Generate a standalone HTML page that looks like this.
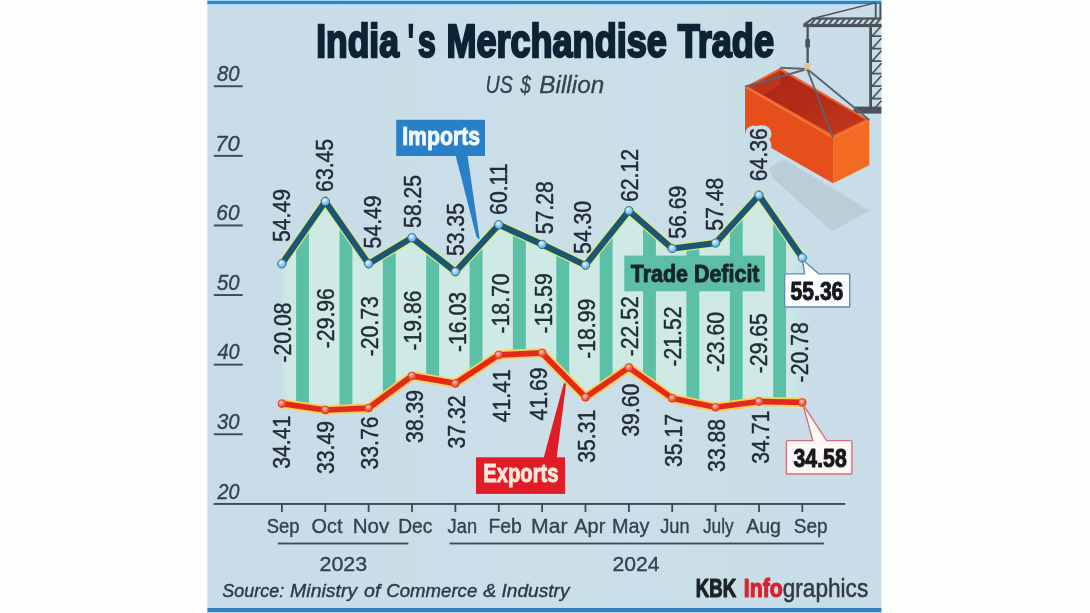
<!DOCTYPE html>
<html><head><meta charset="utf-8"><title>India's Merchandise Trade</title>
<style>html,body{margin:0;padding:0;background:#fdfefe;}body{width:1090px;height:613px;overflow:hidden;font-family:"Liberation Sans",sans-serif;}svg{display:block;}</style>
</head><body>
<svg width="1090" height="613" viewBox="0 0 1090 613">
<defs>
<linearGradient id="bg" x1="0" y1="0" x2="1" y2="0">
<stop offset="0" stop-color="#c8dce8"/><stop offset="0.5" stop-color="#cbdfe9"/><stop offset="1" stop-color="#c9dde8"/>
</linearGradient>
<radialGradient id="mi" cx="0.4" cy="0.35" r="0.7"><stop offset="0" stop-color="#e8f6ff"/><stop offset="0.5" stop-color="#8ccaf2"/><stop offset="1" stop-color="#5aa6dc"/></radialGradient>
<radialGradient id="me" cx="0.4" cy="0.35" r="0.7"><stop offset="0" stop-color="#ffd0c0"/><stop offset="0.55" stop-color="#ee6a58"/><stop offset="1" stop-color="#d83a2a"/></radialGradient>
</defs>
<filter id="soft" x="0" y="0" width="100%" height="100%" filterUnits="userSpaceOnUse"><feGaussianBlur stdDeviation="0.55" edgeMode="duplicate"/></filter>
<g filter="url(#soft)">
<rect width="1090" height="613" fill="#fdfefe"/>
<rect x="207.4" y="0" width="674.0" height="613" fill="url(#bg)"/>
<rect x="207.4" y="0" width="674.0" height="1.1" fill="#9cd6fb"/>
<rect x="207.4" y="1.0" width="674.0" height="3.2" fill="#3283c2"/>
<rect x="207.4" y="4.2" width="674.0" height="1.2" fill="#bfe0f2" opacity="0.7"/>
<rect x="207.4" y="606.8" width="674.0" height="1.3" fill="#b4e0f8"/>
<rect x="207.4" y="608" width="674.0" height="4.2" fill="#3280bf"/>
<rect x="207.4" y="612.2" width="674.0" height="0.8" fill="#bfe0f5"/>
<g fill="#4b5359" stroke="none">
<rect x="812.5" y="17.4" width="69" height="2.3"/>
<rect x="803.3" y="23.8" width="78.2" height="3.3"/>
<polygon points="803.3,23.8 812.5,17.4 815.5,17.4 806.5,24.5"/>
<rect x="874.8" y="3.5" width="1.8" height="14.5"/>
<rect x="879.4" y="3.5" width="2.0" height="14.5"/>
<rect x="869.2" y="27" width="2.8" height="80"/>
<rect x="853.6" y="106.6" width="27.8" height="7"/>
<rect x="806.5" y="27" width="2.3" height="36"/>
<rect x="805.3" y="39" width="4.7" height="8.5" rx="1"/>
</g>
<path d="M811.0,24.2 L815.2,19.2 M816.9,24.2 L821.1,19.2 M822.8,24.2 L827.0,19.2 M828.7,24.2 L832.9,19.2 M834.6,24.2 L838.8,19.2 M840.5,24.2 L844.7,19.2 M846.4,24.2 L850.6,19.2 M852.3,24.2 L856.5,19.2 M858.2,24.2 L862.4,19.2 M864.1,24.2 L868.3,19.2 M870.0,24.2 L874.2,19.2 M875.9,24.2 L880.1,19.2 " fill="none" stroke="#4b5359" stroke-width="2.0"/>
<line x1="816" y1="17.8" x2="876" y2="2.6" stroke="#4b5359" stroke-width="1.4"/>
<path d="M872,36.2 L881.4,36.2 M872,36.2 L881.4,25.7 M872,48.7 L881.4,48.7 M872,48.7 L881.4,38.2 M872,61.2 L881.4,61.2 M872,61.2 L881.4,50.7 M872,73.7 L881.4,73.7 M872,73.7 L881.4,63.2 M872,86.2 L881.4,86.2 M872,86.2 L881.4,75.7 M872,98.7 L881.4,98.7 M872,98.7 L881.4,88.2 M872,111.2 L881.4,100.7" fill="none" stroke="#4b5359" stroke-width="1.7"/>
<polygon points="765,171 783.5,159 869.5,210.5 832,231.6" fill="#b5c6cf" opacity="0.72"/>
<polygon points="745.0,86.7 780.3,67.7 869.3,119.9 833.1,138.0" fill="#f0602a"/>
<linearGradient id="ci" x1="0" y1="0" x2="1" y2="1"><stop offset="0" stop-color="#a92616"/><stop offset="0.6" stop-color="#b62d19"/><stop offset="1" stop-color="#c63a1d"/></linearGradient>
<polygon points="749.0,87.0 780.3,70.4 865.4,119.7 833.2,135.0" fill="url(#ci)"/>
<polygon points="749.0,87.0 780.3,70.4 780.3,84.5 763.5,95.2" fill="#c23a20" opacity="0.75"/>
<polygon points="745.0,86.7 833.1,138.0 833.1,183.3 745.0,132.9" fill="#e6501e"/>
<polygon points="833.1,138.0 869.3,119.9 869.3,165.2 833.1,183.3" fill="#f36b22"/>
<polyline points="745.0,86.7 833.1,138.0 869.3,119.9" fill="none" stroke="#f47a3c" stroke-width="1.4"/>
<line x1="807.2" y1="69.0" x2="745" y2="86.7" stroke="#5b656d" stroke-width="1.9"/>
<line x1="807.2" y1="69.0" x2="780.3" y2="67.7" stroke="#5b656d" stroke-width="1.9"/>
<line x1="807.2" y1="69.0" x2="869.3" y2="119.9" stroke="#5b656d" stroke-width="1.9"/>
<line x1="807.2" y1="69.0" x2="833.1" y2="138.0" stroke="#5b656d" stroke-width="1.9"/>
<path d="M804.0,62.3 L807.6,64 L811.2,62.3 L810,67 L811,70.8 L807.6,69.2 L804.2,70.8 L805.2,67 Z" fill="#e3c586"/>
<text transform="translate(316.14,56.85) scale(0.7779,1)" font-family="Liberation Sans, sans-serif" font-weight="bold" font-size="45.6" fill="#0e2433" stroke="#0e2433" stroke-width="2.1" stroke-linejoin="miter" vector-effect="non-scaling-stroke">India</text>
<text transform="translate(407.94,56.85) scale(0.5229,1)" font-family="Liberation Sans, sans-serif" font-weight="bold" font-size="45.6" fill="#0e2433" stroke="#0e2433" stroke-width="2.1" stroke-linejoin="miter" vector-effect="non-scaling-stroke">'</text>
<text transform="translate(417.93,56.85) scale(0.6990,1)" font-family="Liberation Sans, sans-serif" font-weight="bold" font-size="45.6" fill="#0e2433" stroke="#0e2433" stroke-width="2.1" stroke-linejoin="miter" vector-effect="non-scaling-stroke">s</text>
<text transform="translate(446.41,56.85) scale(0.7907,1)" font-family="Liberation Sans, sans-serif" font-weight="bold" font-size="45.6" fill="#0e2433" stroke="#0e2433" stroke-width="2.1" stroke-linejoin="miter" vector-effect="non-scaling-stroke">Merchandise</text>
<text transform="translate(677.69,56.85) scale(0.7918,1)" font-family="Liberation Sans, sans-serif" font-weight="bold" font-size="45.6" fill="#0e2433" stroke="#0e2433" stroke-width="2.1" stroke-linejoin="miter" vector-effect="non-scaling-stroke">Trade</text>
<text transform="translate(485.47,93.35) scale(0.8357,1)" font-family="Liberation Sans, sans-serif" font-style="italic" font-size="23.565217391304348" fill="#33434f" stroke="#33434f" stroke-width="0.3" stroke-linejoin="round" vector-effect="non-scaling-stroke">US</text>
<text transform="translate(520.44,93.35) scale(0.7897,1)" font-family="Liberation Sans, sans-serif" font-style="italic" font-size="23.565217391304348" fill="#33434f" stroke="#33434f" stroke-width="0.3" stroke-linejoin="round" vector-effect="non-scaling-stroke">$</text>
<text transform="translate(539.32,93.35) scale(1.0322,1)" font-family="Liberation Sans, sans-serif" font-style="italic" font-size="23.565217391304348" fill="#33434f" stroke="#33434f" stroke-width="0.3" stroke-linejoin="round" vector-effect="non-scaling-stroke">Billion</text>
<text transform="translate(216.97,81.02) scale(0.9241,1)" font-family="Liberation Sans, sans-serif" font-style="italic" font-size="21.992753623188406" fill="#34424f" stroke="#34424f" stroke-width="0.35" stroke-linejoin="round" vector-effect="non-scaling-stroke">80</text>
<rect x="213.7" y="85.3" width="29" height="1.9" fill="#3c4a57"/>
<text transform="translate(215.17,150.62) scale(0.9981,1)" font-family="Liberation Sans, sans-serif" font-style="italic" font-size="21.992753623188406" fill="#34424f" stroke="#34424f" stroke-width="0.35" stroke-linejoin="round" vector-effect="non-scaling-stroke">70</text>
<rect x="213.7" y="154.9" width="29" height="1.9" fill="#3c4a57"/>
<text transform="translate(216.33,220.22) scale(0.9505,1)" font-family="Liberation Sans, sans-serif" font-style="italic" font-size="21.992753623188406" fill="#34424f" stroke="#34424f" stroke-width="0.35" stroke-linejoin="round" vector-effect="non-scaling-stroke">60</text>
<rect x="213.7" y="224.5" width="29" height="1.9" fill="#3c4a57"/>
<text transform="translate(216.97,289.82) scale(0.9241,1)" font-family="Liberation Sans, sans-serif" font-style="italic" font-size="21.992753623188406" fill="#34424f" stroke="#34424f" stroke-width="0.35" stroke-linejoin="round" vector-effect="non-scaling-stroke">50</text>
<rect x="213.7" y="294.1" width="29" height="1.9" fill="#3c4a57"/>
<text transform="translate(217.38,359.42) scale(0.9073,1)" font-family="Liberation Sans, sans-serif" font-style="italic" font-size="21.992753623188406" fill="#34424f" stroke="#34424f" stroke-width="0.35" stroke-linejoin="round" vector-effect="non-scaling-stroke">40</text>
<rect x="213.7" y="363.7" width="29" height="1.9" fill="#3c4a57"/>
<text transform="translate(216.97,429.02) scale(0.9241,1)" font-family="Liberation Sans, sans-serif" font-style="italic" font-size="21.992753623188406" fill="#34424f" stroke="#34424f" stroke-width="0.35" stroke-linejoin="round" vector-effect="non-scaling-stroke">30</text>
<rect x="213.7" y="433.3" width="29" height="1.9" fill="#3c4a57"/>
<text transform="translate(217.57,498.62) scale(0.8991,1)" font-family="Liberation Sans, sans-serif" font-style="italic" font-size="21.992753623188406" fill="#34424f" stroke="#34424f" stroke-width="0.35" stroke-linejoin="round" vector-effect="non-scaling-stroke">20</text>
<clipPath id="cp"><polygon points="281.9,263.8 325.3,201.5 368.6,263.8 412.0,237.7 455.4,271.8 498.8,224.7 542.1,244.4 585.5,265.2 628.9,210.7 672.2,248.5 715.6,243.0 759.0,195.2 802.3,257.8 802.3,402.4 759.0,401.5 715.6,407.3 672.2,398.3 628.9,367.5 585.5,397.3 542.1,352.9 498.8,354.9 455.4,383.4 412.0,375.9 368.6,408.1 325.3,410.0 281.9,403.6"/></clipPath>
<linearGradient id="lt" x1="0" y1="0" x2="0" y2="1"><stop offset="0" stop-color="#cdeee2"/><stop offset="1" stop-color="#d3ebe8"/></linearGradient>
<g clip-path="url(#cp)">
<rect x="270" y="150" width="560" height="300" fill="#cfeae5"/>
<rect x="296.1" y="150" width="12.9" height="300" fill="#5cc0a6"/>
<rect x="339.5" y="150" width="12.9" height="300" fill="#5cc0a6"/>
<rect x="382.8" y="150" width="12.9" height="300" fill="#5cc0a6"/>
<rect x="426.2" y="150" width="12.9" height="300" fill="#5cc0a6"/>
<rect x="469.6" y="150" width="12.9" height="300" fill="#5cc0a6"/>
<rect x="512.9" y="150" width="12.9" height="300" fill="#5cc0a6"/>
<rect x="556.3" y="150" width="12.9" height="300" fill="#5cc0a6"/>
<rect x="599.7" y="150" width="12.9" height="300" fill="#5cc0a6"/>
<rect x="643.0" y="150" width="12.9" height="300" fill="#5cc0a6"/>
<rect x="686.4" y="150" width="12.9" height="300" fill="#5cc0a6"/>
<rect x="729.8" y="150" width="12.9" height="300" fill="#5cc0a6"/>
<rect x="773.2" y="150" width="12.9" height="300" fill="#5cc0a6"/>
<linearGradient id="fr" x1="0" y1="0" x2="1" y2="0"><stop offset="0" stop-color="#c9dde9" stop-opacity="0.15"/><stop offset="1" stop-color="#c9dde9" stop-opacity="0.9"/></linearGradient>
<linearGradient id="fl" x1="0" y1="0" x2="1" y2="0"><stop offset="0" stop-color="#c9dde9" stop-opacity="0.8"/><stop offset="1" stop-color="#c9dde9" stop-opacity="0"/></linearGradient>
<rect x="786.6" y="150" width="16" height="300" fill="url(#fr)"/>
<rect x="281" y="150" width="9" height="300" fill="url(#fl)"/>
</g>
<rect x="624.3" y="255.6" width="140.6" height="35.7" fill="#5bbfa5"/>
<text transform="translate(630.74,281.75) scale(0.8795,1)" font-family="Liberation Sans, sans-serif" font-weight="bold" font-size="24.395652173913042" fill="#17262a" stroke="#17262a" stroke-width="0.9" stroke-linejoin="round" vector-effect="non-scaling-stroke">Trade Deficit</text>
<text transform="translate(290.6,362.6) rotate(-90) scale(0.862,1)" font-family="Liberation Sans, sans-serif" font-size="24.6" fill="#222c35" stroke="#222c35" stroke-width="0.45">-20.08</text>
<text transform="translate(333.6,348.2) rotate(-90) scale(0.862,1)" font-family="Liberation Sans, sans-serif" font-size="24.6" fill="#222c35" stroke="#222c35" stroke-width="0.45">-29.96</text>
<text transform="translate(378.0,356.3) rotate(-90) scale(0.862,1)" font-family="Liberation Sans, sans-serif" font-size="24.6" fill="#222c35" stroke="#222c35" stroke-width="0.45">-20.73</text>
<text transform="translate(420.9,350.6) rotate(-90) scale(0.862,1)" font-family="Liberation Sans, sans-serif" font-size="24.6" fill="#222c35" stroke="#222c35" stroke-width="0.45">-19.86</text>
<text transform="translate(465.6,352.1) rotate(-90) scale(0.862,1)" font-family="Liberation Sans, sans-serif" font-size="24.6" fill="#222c35" stroke="#222c35" stroke-width="0.45">-16.03</text>
<text transform="translate(508.9,333.5) rotate(-90) scale(0.862,1)" font-family="Liberation Sans, sans-serif" font-size="24.6" fill="#222c35" stroke="#222c35" stroke-width="0.45">-18.70</text>
<text transform="translate(551.7,333.4) rotate(-90) scale(0.862,1)" font-family="Liberation Sans, sans-serif" font-size="24.6" fill="#222c35" stroke="#222c35" stroke-width="0.45">-15.59</text>
<text transform="translate(594.8,358.8) rotate(-90) scale(0.862,1)" font-family="Liberation Sans, sans-serif" font-size="24.6" fill="#222c35" stroke="#222c35" stroke-width="0.45">-18.99</text>
<text transform="translate(638.2,356.3) rotate(-90) scale(0.862,1)" font-family="Liberation Sans, sans-serif" font-size="24.6" fill="#222c35" stroke="#222c35" stroke-width="0.45">-22.52</text>
<text transform="translate(680.6,366.6) rotate(-90) scale(0.862,1)" font-family="Liberation Sans, sans-serif" font-size="24.6" fill="#222c35" stroke="#222c35" stroke-width="0.45">-21.52</text>
<text transform="translate(724.0,372.1) rotate(-90) scale(0.862,1)" font-family="Liberation Sans, sans-serif" font-size="24.6" fill="#222c35" stroke="#222c35" stroke-width="0.45">-23.60</text>
<text transform="translate(766.9,373.2) rotate(-90) scale(0.862,1)" font-family="Liberation Sans, sans-serif" font-size="24.6" fill="#222c35" stroke="#222c35" stroke-width="0.45">-29.65</text>
<text transform="translate(807.8,382.4) rotate(-90) scale(0.862,1)" font-family="Liberation Sans, sans-serif" font-size="24.6" fill="#222c35" stroke="#222c35" stroke-width="0.45">-20.78</text>
<text transform="translate(290.0,242.0) rotate(-90) scale(0.862,1)" font-family="Liberation Sans, sans-serif" font-size="24.6" fill="#222c35" stroke="#222c35" stroke-width="0.45">54.49</text>
<text transform="translate(332.8,191.9) rotate(-90) scale(0.862,1)" font-family="Liberation Sans, sans-serif" font-size="24.6" fill="#222c35" stroke="#222c35" stroke-width="0.45">63.45</text>
<text transform="translate(381.3,248.4) rotate(-90) scale(0.862,1)" font-family="Liberation Sans, sans-serif" font-size="24.6" fill="#222c35" stroke="#222c35" stroke-width="0.45">54.49</text>
<text transform="translate(420.6,227.9) rotate(-90) scale(0.862,1)" font-family="Liberation Sans, sans-serif" font-size="24.6" fill="#222c35" stroke="#222c35" stroke-width="0.45">58.25</text>
<text transform="translate(464.0,256.1) rotate(-90) scale(0.862,1)" font-family="Liberation Sans, sans-serif" font-size="24.6" fill="#222c35" stroke="#222c35" stroke-width="0.45">53.35</text>
<text transform="translate(507.3,214.9) rotate(-90) scale(0.862,1)" font-family="Liberation Sans, sans-serif" font-size="24.6" fill="#222c35" stroke="#222c35" stroke-width="0.45">60.11</text>
<text transform="translate(553.0,234.3) rotate(-90) scale(0.862,1)" font-family="Liberation Sans, sans-serif" font-size="24.6" fill="#222c35" stroke="#222c35" stroke-width="0.45">57.28</text>
<text transform="translate(591.4,253.9) rotate(-90) scale(0.862,1)" font-family="Liberation Sans, sans-serif" font-size="24.6" fill="#222c35" stroke="#222c35" stroke-width="0.45">54.30</text>
<text transform="translate(638.4,202.0) rotate(-90) scale(0.862,1)" font-family="Liberation Sans, sans-serif" font-size="24.6" fill="#222c35" stroke="#222c35" stroke-width="0.45">62.12</text>
<text transform="translate(685.5,238.7) rotate(-90) scale(0.862,1)" font-family="Liberation Sans, sans-serif" font-size="24.6" fill="#222c35" stroke="#222c35" stroke-width="0.45">56.69</text>
<text transform="translate(723.0,230.8) rotate(-90) scale(0.862,1)" font-family="Liberation Sans, sans-serif" font-size="24.6" fill="#222c35" stroke="#222c35" stroke-width="0.45">57.48</text>
<text transform="translate(766.8,181.2) rotate(-90) scale(0.862,1)" font-family="Liberation Sans, sans-serif" font-size="24.6" fill="#c9dde9" stroke="#c9dde9" stroke-width="9" stroke-linejoin="round">64.36</text>
<text transform="translate(766.8,181.2) rotate(-90) scale(0.862,1)" font-family="Liberation Sans, sans-serif" font-size="24.6" fill="#222c35" stroke="#222c35" stroke-width="0.45">64.36</text>
<text transform="translate(289.5,468.8) rotate(-90) scale(0.862,1)" font-family="Liberation Sans, sans-serif" font-size="24.6" fill="#222c35" stroke="#222c35" stroke-width="0.45">34.41</text>
<text transform="translate(333.9,474.0) rotate(-90) scale(0.862,1)" font-family="Liberation Sans, sans-serif" font-size="24.6" fill="#222c35" stroke="#222c35" stroke-width="0.45">33.49</text>
<text transform="translate(378.0,469.5) rotate(-90) scale(0.862,1)" font-family="Liberation Sans, sans-serif" font-size="24.6" fill="#222c35" stroke="#222c35" stroke-width="0.45">33.76</text>
<text transform="translate(422.5,442.9) rotate(-90) scale(0.862,1)" font-family="Liberation Sans, sans-serif" font-size="24.6" fill="#222c35" stroke="#222c35" stroke-width="0.45">38.39</text>
<text transform="translate(464.6,448.5) rotate(-90) scale(0.862,1)" font-family="Liberation Sans, sans-serif" font-size="24.6" fill="#222c35" stroke="#222c35" stroke-width="0.45">37.32</text>
<text transform="translate(509.6,422.2) rotate(-90) scale(0.862,1)" font-family="Liberation Sans, sans-serif" font-size="24.6" fill="#222c35" stroke="#222c35" stroke-width="0.45">41.41</text>
<text transform="translate(546.6,420.5) rotate(-90) scale(0.862,1)" font-family="Liberation Sans, sans-serif" font-size="24.6" fill="#222c35" stroke="#222c35" stroke-width="0.45">41.69</text>
<text transform="translate(595.3,462.8) rotate(-90) scale(0.862,1)" font-family="Liberation Sans, sans-serif" font-size="24.6" fill="#222c35" stroke="#222c35" stroke-width="0.45">35.31</text>
<text transform="translate(639.3,436.8) rotate(-90) scale(0.862,1)" font-family="Liberation Sans, sans-serif" font-size="24.6" fill="#222c35" stroke="#222c35" stroke-width="0.45">39.60</text>
<text transform="translate(682.4,467.0) rotate(-90) scale(0.862,1)" font-family="Liberation Sans, sans-serif" font-size="24.6" fill="#222c35" stroke="#222c35" stroke-width="0.45">35.17</text>
<text transform="translate(725.1,471.9) rotate(-90) scale(0.862,1)" font-family="Liberation Sans, sans-serif" font-size="24.6" fill="#222c35" stroke="#222c35" stroke-width="0.45">33.88</text>
<text transform="translate(768.7,463.7) rotate(-90) scale(0.862,1)" font-family="Liberation Sans, sans-serif" font-size="24.6" fill="#222c35" stroke="#222c35" stroke-width="0.45">34.71</text>
<polygon points="455.6,155.5 467.5,155.5 479.8,240 476.5,237" fill="#2a80c6"/>
<rect x="396.2" y="119.8" width="88.8" height="36.2" fill="#2a80c6"/>
<text transform="translate(402.17,145.45) scale(0.8025,1)" font-family="Liberation Sans, sans-serif" font-weight="bold" font-size="26.495652173913044" fill="#f0f8ff" stroke="#f0f8ff" stroke-width="0.9" stroke-linejoin="round" vector-effect="non-scaling-stroke">Imports</text>
<polygon points="543.6,458 556.6,458 566.4,381.5 563.6,384" fill="#e21f26"/>
<rect x="476" y="457.3" width="89" height="36.6" fill="#e21f26"/>
<text transform="translate(483.34,482.35) scale(0.7859,1)" font-family="Liberation Sans, sans-serif" font-weight="bold" font-size="25.695652173913043" fill="#fde8de" stroke="#fde8de" stroke-width="0.9" stroke-linejoin="round" vector-effect="non-scaling-stroke">Exports</text>
<path d="M785.3,273.9 H804.6 L802.4,259.5 L818.8,273.9 H848.9 Q849.7,273.9 849.7,274.7 V306.2 Q849.7,307 848.9,307 H785.4 Q784.6,307 784.6,306.2 V274.7 Q784.6,273.9 785.3,273.9 Z" fill="#fbfdfe" stroke="#5a8db4" stroke-width="1.4" stroke-linejoin="miter"/>
<text transform="translate(790.62,300.15) scale(0.8395,1)" font-family="Liberation Sans, sans-serif" font-weight="bold" font-size="25.09565217391304" fill="#15191d" stroke="#15191d" stroke-width="0.9" stroke-linejoin="round" vector-effect="non-scaling-stroke">55.36</text>
<path d="M787.2,440.6 H812.8 L803.0,404.5 L826.6,440.6 H851.1 Q851.9,440.6 851.9,441.4 V473.2 Q851.9,474 851.1,474 H787.2 Q786.4,474 786.4,473.2 V441.4 Q786.4,440.6 787.2,440.6 Z" fill="#fdf8f6" stroke="#d0737a" stroke-width="1.4" stroke-linejoin="miter"/>
<text transform="translate(793.52,466.95) scale(0.8475,1)" font-family="Liberation Sans, sans-serif" font-weight="bold" font-size="25.09565217391304" fill="#15191d" stroke="#15191d" stroke-width="0.9" stroke-linejoin="round" vector-effect="non-scaling-stroke">34.58</text>
<polyline points="281.9,263.8 325.3,201.5 368.6,263.8 412.0,237.7 455.4,271.8 498.8,224.7 542.1,244.4 585.5,265.2 628.9,210.7 672.2,248.5 715.6,243.0 759.0,195.2 802.3,257.8" fill="none" stroke="#dcec78" stroke-width="8.6" stroke-linejoin="miter" stroke-linecap="round"/>
<polyline points="281.9,263.8 325.3,201.5 368.6,263.8 412.0,237.7 455.4,271.8 498.8,224.7 542.1,244.4 585.5,265.2 628.9,210.7 672.2,248.5 715.6,243.0 759.0,195.2 802.3,257.8" fill="none" stroke="#1b5574" stroke-width="6.2" stroke-linejoin="miter" stroke-linecap="round"/>
<polyline points="281.9,403.6 325.3,410.0 368.6,408.1 412.0,375.9 455.4,383.4 498.8,354.9 542.1,352.9 585.5,397.3 628.9,367.5 672.2,398.3 715.6,407.3 759.0,401.5 802.3,402.4" fill="none" stroke="#f9cf58" stroke-width="9.4" stroke-linejoin="round" stroke-linecap="round"/>
<polyline points="281.9,403.6 325.3,410.0 368.6,408.1 412.0,375.9 455.4,383.4 498.8,354.9 542.1,352.9 585.5,397.3 628.9,367.5 672.2,398.3 715.6,407.3 759.0,401.5 802.3,402.4" fill="none" stroke="#e22a1c" stroke-width="5.7" stroke-linejoin="round" stroke-linecap="round"/>
<circle cx="281.9" cy="263.8" r="4.2" fill="url(#mi)" stroke="#2d6c9c" stroke-width="1"/>
<circle cx="281.9" cy="403.6" r="3.9" fill="url(#me)" stroke="#d8382a" stroke-width="0.8"/>
<circle cx="325.3" cy="201.5" r="4.2" fill="url(#mi)" stroke="#2d6c9c" stroke-width="1"/>
<circle cx="325.3" cy="410.0" r="3.9" fill="url(#me)" stroke="#d8382a" stroke-width="0.8"/>
<circle cx="368.6" cy="263.8" r="4.2" fill="url(#mi)" stroke="#2d6c9c" stroke-width="1"/>
<circle cx="368.6" cy="408.1" r="3.9" fill="url(#me)" stroke="#d8382a" stroke-width="0.8"/>
<circle cx="412.0" cy="237.7" r="4.2" fill="url(#mi)" stroke="#2d6c9c" stroke-width="1"/>
<circle cx="412.0" cy="375.9" r="3.9" fill="url(#me)" stroke="#d8382a" stroke-width="0.8"/>
<circle cx="455.4" cy="271.8" r="4.2" fill="url(#mi)" stroke="#2d6c9c" stroke-width="1"/>
<circle cx="455.4" cy="383.4" r="3.9" fill="url(#me)" stroke="#d8382a" stroke-width="0.8"/>
<circle cx="498.8" cy="224.7" r="4.2" fill="url(#mi)" stroke="#2d6c9c" stroke-width="1"/>
<circle cx="498.8" cy="354.9" r="3.9" fill="url(#me)" stroke="#d8382a" stroke-width="0.8"/>
<circle cx="542.1" cy="244.4" r="4.2" fill="url(#mi)" stroke="#2d6c9c" stroke-width="1"/>
<circle cx="542.1" cy="352.9" r="3.9" fill="url(#me)" stroke="#d8382a" stroke-width="0.8"/>
<circle cx="585.5" cy="265.2" r="4.2" fill="url(#mi)" stroke="#2d6c9c" stroke-width="1"/>
<circle cx="585.5" cy="397.3" r="3.9" fill="url(#me)" stroke="#d8382a" stroke-width="0.8"/>
<circle cx="628.9" cy="210.7" r="4.2" fill="url(#mi)" stroke="#2d6c9c" stroke-width="1"/>
<circle cx="628.9" cy="367.5" r="3.9" fill="url(#me)" stroke="#d8382a" stroke-width="0.8"/>
<circle cx="672.2" cy="248.5" r="4.2" fill="url(#mi)" stroke="#2d6c9c" stroke-width="1"/>
<circle cx="672.2" cy="398.3" r="3.9" fill="url(#me)" stroke="#d8382a" stroke-width="0.8"/>
<circle cx="715.6" cy="243.0" r="4.2" fill="url(#mi)" stroke="#2d6c9c" stroke-width="1"/>
<circle cx="715.6" cy="407.3" r="3.9" fill="url(#me)" stroke="#d8382a" stroke-width="0.8"/>
<circle cx="759.0" cy="195.2" r="4.2" fill="url(#mi)" stroke="#2d6c9c" stroke-width="1"/>
<circle cx="759.0" cy="401.5" r="3.9" fill="url(#me)" stroke="#d8382a" stroke-width="0.8"/>
<circle cx="802.3" cy="257.8" r="4.2" fill="url(#mi)" stroke="#2d6c9c" stroke-width="1"/>
<circle cx="802.3" cy="402.4" r="3.9" fill="url(#me)" stroke="#d8382a" stroke-width="0.8"/>
<rect x="213.7" y="503.0" width="631.5" height="1.9" fill="#3c4a57"/>
<rect x="281.0" y="504" width="1.8" height="8" fill="#3c4a57"/>
<rect x="324.4" y="504" width="1.8" height="8" fill="#3c4a57"/>
<rect x="367.7" y="504" width="1.8" height="8" fill="#3c4a57"/>
<rect x="411.1" y="504" width="1.8" height="8" fill="#3c4a57"/>
<rect x="454.5" y="504" width="1.8" height="8" fill="#3c4a57"/>
<rect x="497.9" y="504" width="1.8" height="8" fill="#3c4a57"/>
<rect x="541.2" y="504" width="1.8" height="8" fill="#3c4a57"/>
<rect x="584.6" y="504" width="1.8" height="8" fill="#3c4a57"/>
<rect x="628.0" y="504" width="1.8" height="8" fill="#3c4a57"/>
<rect x="671.3" y="504" width="1.8" height="8" fill="#3c4a57"/>
<rect x="714.7" y="504" width="1.8" height="8" fill="#3c4a57"/>
<rect x="758.1" y="504" width="1.8" height="8" fill="#3c4a57"/>
<rect x="801.4" y="504" width="1.8" height="8" fill="#3c4a57"/>
<text transform="translate(266.75,533.12) scale(0.9085,1)" font-family="Liberation Sans, sans-serif" font-size="20.292753623188407" fill="#34424f" stroke="#34424f" stroke-width="0.35" stroke-linejoin="round" vector-effect="non-scaling-stroke">Sep</text>
<text transform="translate(311.58,533.12) scale(0.9774,1)" font-family="Liberation Sans, sans-serif" font-size="20.292753623188407" fill="#34424f" stroke="#34424f" stroke-width="0.35" stroke-linejoin="round" vector-effect="non-scaling-stroke">Oct</text>
<text transform="translate(352.63,533.12) scale(1.0132,1)" font-family="Liberation Sans, sans-serif" font-size="20.292753623188407" fill="#34424f" stroke="#34424f" stroke-width="0.35" stroke-linejoin="round" vector-effect="non-scaling-stroke">Nov</text>
<text transform="translate(398.14,533.12) scale(0.9459,1)" font-family="Liberation Sans, sans-serif" font-size="20.292753623188407" fill="#34424f" stroke="#34424f" stroke-width="0.35" stroke-linejoin="round" vector-effect="non-scaling-stroke">Dec</text>
<text transform="translate(447.60,533.12) scale(0.9002,1)" font-family="Liberation Sans, sans-serif" font-size="20.292753623188407" fill="#34424f" stroke="#34424f" stroke-width="0.35" stroke-linejoin="round" vector-effect="non-scaling-stroke">Jan</text>
<text transform="translate(488.42,533.12) scale(0.9563,1)" font-family="Liberation Sans, sans-serif" font-size="20.292753623188407" fill="#34424f" stroke="#34424f" stroke-width="0.35" stroke-linejoin="round" vector-effect="non-scaling-stroke">Feb</text>
<text transform="translate(531.08,533.12) scale(1.0447,1)" font-family="Liberation Sans, sans-serif" font-size="20.292753623188407" fill="#34424f" stroke="#34424f" stroke-width="0.35" stroke-linejoin="round" vector-effect="non-scaling-stroke">Mar</text>
<text transform="translate(574.17,533.12) scale(0.9872,1)" font-family="Liberation Sans, sans-serif" font-size="20.292753623188407" fill="#34424f" stroke="#34424f" stroke-width="0.35" stroke-linejoin="round" vector-effect="non-scaling-stroke">Apr</text>
<text transform="translate(611.99,533.12) scale(0.9788,1)" font-family="Liberation Sans, sans-serif" font-size="20.292753623188407" fill="#34424f" stroke="#34424f" stroke-width="0.35" stroke-linejoin="round" vector-effect="non-scaling-stroke">May</text>
<text transform="translate(660.20,533.12) scale(0.8970,1)" font-family="Liberation Sans, sans-serif" font-size="20.292753623188407" fill="#34424f" stroke="#34424f" stroke-width="0.35" stroke-linejoin="round" vector-effect="non-scaling-stroke">Jun</text>
<text transform="translate(702.92,533.12) scale(0.8530,1)" font-family="Liberation Sans, sans-serif" font-size="20.292753623188407" fill="#34424f" stroke="#34424f" stroke-width="0.35" stroke-linejoin="round" vector-effect="non-scaling-stroke">July</text>
<text transform="translate(746.17,533.12) scale(0.9640,1)" font-family="Liberation Sans, sans-serif" font-size="20.292753623188407" fill="#34424f" stroke="#34424f" stroke-width="0.35" stroke-linejoin="round" vector-effect="non-scaling-stroke">Aug</text>
<text transform="translate(793.82,533.12) scale(0.9376,1)" font-family="Liberation Sans, sans-serif" font-size="20.292753623188407" fill="#34424f" stroke="#34424f" stroke-width="0.35" stroke-linejoin="round" vector-effect="non-scaling-stroke">Sep</text>
<rect x="277.8" y="542.6" width="130.6" height="1.8" fill="#3c4a57"/>
<rect x="449.6" y="542.6" width="374.5" height="1.8" fill="#3c4a57"/>
<text transform="translate(319.50,571.43) scale(1.0181,1)" font-family="Liberation Sans, sans-serif" font-size="21.092753623188408" fill="#34424f" stroke="#34424f" stroke-width="0.35" stroke-linejoin="round" vector-effect="non-scaling-stroke">2023</text>
<text transform="translate(612.52,571.43) scale(1.0023,1)" font-family="Liberation Sans, sans-serif" font-size="21.092753623188408" fill="#34424f" stroke="#34424f" stroke-width="0.35" stroke-linejoin="round" vector-effect="non-scaling-stroke">2024</text>
<text transform="translate(222.26,596.70) scale(0.9344,1)" font-family="Liberation Sans, sans-serif" font-style="italic" font-size="19.220289855072465" fill="#2c3a47" stroke="#2c3a47" stroke-width="0.4" stroke-linejoin="round" vector-effect="non-scaling-stroke">Source:</text>
<text transform="translate(290.12,596.70) scale(1.0135,1)" font-family="Liberation Sans, sans-serif" font-style="italic" font-size="19.220289855072465" fill="#2c3a47" stroke="#2c3a47" stroke-width="0.4" stroke-linejoin="round" vector-effect="non-scaling-stroke">Ministry</text>
<text transform="translate(364.01,596.70) scale(1.0172,1)" font-family="Liberation Sans, sans-serif" font-style="italic" font-size="19.220289855072465" fill="#2c3a47" stroke="#2c3a47" stroke-width="0.4" stroke-linejoin="round" vector-effect="non-scaling-stroke">of</text>
<text transform="translate(386.28,596.70) scale(0.9690,1)" font-family="Liberation Sans, sans-serif" font-style="italic" font-size="19.220289855072465" fill="#2c3a47" stroke="#2c3a47" stroke-width="0.4" stroke-linejoin="round" vector-effect="non-scaling-stroke">Commerce</text>
<text transform="translate(483.21,596.70) scale(1.0146,1)" font-family="Liberation Sans, sans-serif" font-style="italic" font-size="19.220289855072465" fill="#2c3a47" stroke="#2c3a47" stroke-width="0.4" stroke-linejoin="round" vector-effect="non-scaling-stroke">&amp;</text>
<text transform="translate(501.53,596.70) scale(0.9953,1)" font-family="Liberation Sans, sans-serif" font-style="italic" font-size="19.220289855072465" fill="#2c3a47" stroke="#2c3a47" stroke-width="0.4" stroke-linejoin="round" vector-effect="non-scaling-stroke">Industry</text>
<text transform="translate(695.84,596.95) scale(0.7473,1)" font-family="Liberation Sans, sans-serif" font-weight="bold" font-size="24.905797101449274" fill="#1d2227" stroke="#1d2227" stroke-width="1.1" stroke-linejoin="round" vector-effect="non-scaling-stroke">KBK</text>
<text transform="translate(743.87,596.95) scale(0.8496,1)" font-family="Liberation Sans, sans-serif" font-weight="bold" font-size="24.905797101449274" fill="#d6232f" stroke="#d6232f" stroke-width="1.1" stroke-linejoin="round" vector-effect="non-scaling-stroke">Info</text>
<text transform="translate(782.75,597.25) scale(0.8775,1)" font-family="Liberation Sans, sans-serif" font-size="25.77536231884058" fill="#333b42" stroke="#333b42" stroke-width="0.5" stroke-linejoin="round" vector-effect="non-scaling-stroke">graphics</text>
</g>
</svg>
</body></html>
